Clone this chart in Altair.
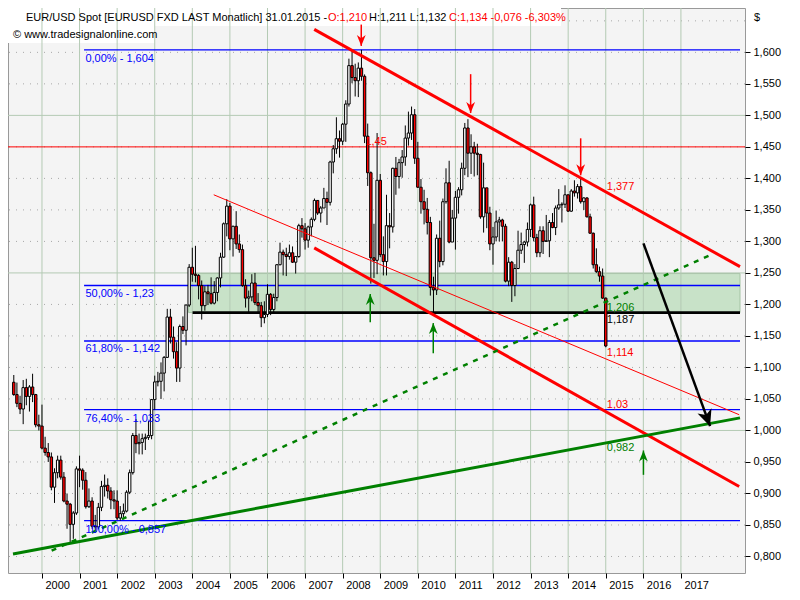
import altair as alt
import pandas as pd

FONT = "Liberation Sans"

# ---------------- monthly EUR/USD candles, Apr 1999 .. Jan 2015 ----------------
START_YEAR, START_MONTH = 1999, 4
FIRST_OPEN = 1.0765

C1999 = [1.0570, 1.0430, 1.0340, 1.0680, 1.0540, 1.0690, 1.0570, 1.0090, 1.0070]
H1999 = [1.0880, 1.0760, 1.0550, 1.0800, 1.0820, 1.0720, 1.0900, 1.0580, 1.0250]
L1999 = [1.0550, 1.0370, 1.0260, 1.0100, 1.0400, 1.0300, 1.0450, 1.0050, 1.0000]

C2000 = [0.9720, 0.9650, 0.9580, 0.9100, 0.9330, 0.9530, 0.9260, 0.8880, 0.8830, 0.8510, 0.8690, 0.9390]
H2000 = [1.0410, 0.9900, 0.9800, 0.9650, 0.9400, 0.9600, 0.9600, 0.9340, 0.9000, 0.8850, 0.8720, 0.9430]
L2000 = [0.9700, 0.9600, 0.9500, 0.9050, 0.8850, 0.9240, 0.9220, 0.8860, 0.8440, 0.8230, 0.8280, 0.8660]

C2001 = [0.9370, 0.9210, 0.8790, 0.8880, 0.8480, 0.8470, 0.8780, 0.9110, 0.9130, 0.9040, 0.8900, 0.8880]
H2001 = [0.9600, 0.9400, 0.9340, 0.9080, 0.8940, 0.8660, 0.8850, 0.9200, 0.9300, 0.9240, 0.9100, 0.9050]
L2001 = [0.9100, 0.9060, 0.8760, 0.8770, 0.8440, 0.8380, 0.8430, 0.8720, 0.8950, 0.8920, 0.8750, 0.8750]

C2002 = [0.8610, 0.8680, 0.8720, 0.9020, 0.9330, 0.9920, 0.9790, 0.9810, 0.9870, 0.9890, 0.9920, 1.0490]
H2002 = [0.9050, 0.8800, 0.8840, 0.9050, 0.9380, 0.9960, 1.0180, 0.9950, 0.9950, 0.9950, 1.0150, 1.0500]
L2002 = [0.8580, 0.8570, 0.8620, 0.8700, 0.8990, 0.9300, 0.9640, 0.9620, 0.9620, 0.9690, 0.9850, 0.9860]

C2003 = [1.0770, 1.0780, 1.0910, 1.1160, 1.1800, 1.1480, 1.1250, 1.0990, 1.1650, 1.1590, 1.1990, 1.2590]
H2003 = [1.0870, 1.0930, 1.1080, 1.1180, 1.1930, 1.1930, 1.1650, 1.1400, 1.1680, 1.1810, 1.2000, 1.2640]
L2003 = [1.0330, 1.0700, 1.0500, 1.0620, 1.1150, 1.1380, 1.1140, 1.0770, 1.0770, 1.1530, 1.1350, 1.1960]

C2004 = [1.2480, 1.2460, 1.2300, 1.1980, 1.2200, 1.2170, 1.2020, 1.2190, 1.2420, 1.2750, 1.3280, 1.3560]
H2004 = [1.2900, 1.2930, 1.2480, 1.2380, 1.2290, 1.2310, 1.2430, 1.2370, 1.2430, 1.2820, 1.3300, 1.3670]
L2004 = [1.2360, 1.2350, 1.2080, 1.1760, 1.1900, 1.1990, 1.2000, 1.2000, 1.2050, 1.2270, 1.2740, 1.3080]

C2005 = [1.3040, 1.3240, 1.2960, 1.2870, 1.2300, 1.2100, 1.2120, 1.2340, 1.2030, 1.1980, 1.1790, 1.1840]
H2005 = [1.3610, 1.3250, 1.3480, 1.3110, 1.2950, 1.2400, 1.2220, 1.2480, 1.2500, 1.2180, 1.2040, 1.2050]
L2005 = [1.2860, 1.2760, 1.2880, 1.2820, 1.2280, 1.1950, 1.1860, 1.2050, 1.1990, 1.1870, 1.1640, 1.1700]

C2006 = [1.2160, 1.1920, 1.2110, 1.2630, 1.2830, 1.2790, 1.2760, 1.2820, 1.2670, 1.2760, 1.3250, 1.3200]
H2006 = [1.2320, 1.2180, 1.2170, 1.2640, 1.2980, 1.2870, 1.2900, 1.2950, 1.2920, 1.2770, 1.3280, 1.3370]
L2006 = [1.1800, 1.1830, 1.1860, 1.2050, 1.2620, 1.2460, 1.2450, 1.2710, 1.2660, 1.2490, 1.2740, 1.3060]

C2007 = [1.3020, 1.3230, 1.3350, 1.3650, 1.3450, 1.3530, 1.3680, 1.3620, 1.4260, 1.4470, 1.4630, 1.4590]
H2007 = [1.3290, 1.3250, 1.3380, 1.3680, 1.3650, 1.3560, 1.3850, 1.3790, 1.4280, 1.4530, 1.4970, 1.4760]
L2007 = [1.2870, 1.2900, 1.3080, 1.3320, 1.3420, 1.3300, 1.3530, 1.3260, 1.3570, 1.4080, 1.4390, 1.4330]

C2008 = [1.4860, 1.5180, 1.5790, 1.5600, 1.5550, 1.5750, 1.5620, 1.4670, 1.4090, 1.2740, 1.2700, 1.3970]
H2008 = [1.4880, 1.5240, 1.5900, 1.6020, 1.5820, 1.5840, 1.6040, 1.5650, 1.4870, 1.4110, 1.3280, 1.4720]
L2008 = [1.4530, 1.4580, 1.5140, 1.5510, 1.5300, 1.5290, 1.5550, 1.4560, 1.3880, 1.2330, 1.2420, 1.2480]

C2009 = [1.2790, 1.2680, 1.3250, 1.3230, 1.4160, 1.4030, 1.4250, 1.4340, 1.4640, 1.4720, 1.5010, 1.4320]
H2009 = [1.4070, 1.3080, 1.3740, 1.3450, 1.4170, 1.4340, 1.4310, 1.4450, 1.4840, 1.5060, 1.5140, 1.5100]
L2009 = [1.2750, 1.2460, 1.2460, 1.2890, 1.3140, 1.3740, 1.3840, 1.4010, 1.4200, 1.4520, 1.4610, 1.4230]

C2010 = [1.3860, 1.3630, 1.3510, 1.3300, 1.2270, 1.2230, 1.3050, 1.2680, 1.3630, 1.3930, 1.2990, 1.3370]
H2010 = [1.4580, 1.3990, 1.3820, 1.3690, 1.3390, 1.2440, 1.3110, 1.3330, 1.3680, 1.4160, 1.4280, 1.3500]
L2010 = [1.3850, 1.3440, 1.3270, 1.3110, 1.2140, 1.1880, 1.2150, 1.2590, 1.2620, 1.3600, 1.2970, 1.3070]

C2011 = [1.3700, 1.3820, 1.4160, 1.4800, 1.4400, 1.4500, 1.4400, 1.4380, 1.3390, 1.3850, 1.3450, 1.2960]
H2011 = [1.3800, 1.3860, 1.4250, 1.4880, 1.4940, 1.4700, 1.4580, 1.4550, 1.4390, 1.4250, 1.3850, 1.3550]
L2011 = [1.2870, 1.3440, 1.3730, 1.4050, 1.4020, 1.4070, 1.4030, 1.4050, 1.3360, 1.3140, 1.3210, 1.2860]

C2012 = [1.3070, 1.3310, 1.3340, 1.3240, 1.2370, 1.2670, 1.2300, 1.2570, 1.2860, 1.2950, 1.2990, 1.3190]
H2012 = [1.3230, 1.3490, 1.3390, 1.3360, 1.3280, 1.2750, 1.2690, 1.2640, 1.3170, 1.3140, 1.3010, 1.3300]
L2012 = [1.2630, 1.3000, 1.3000, 1.3000, 1.2350, 1.2290, 1.2040, 1.2130, 1.2560, 1.2800, 1.2660, 1.2920]

C2013 = [1.3580, 1.3060, 1.2820, 1.3170, 1.3000, 1.3010, 1.3300, 1.3220, 1.3530, 1.3580, 1.3590, 1.3740]
H2013 = [1.3600, 1.3710, 1.3120, 1.3240, 1.3240, 1.3420, 1.3340, 1.3450, 1.3570, 1.3830, 1.3620, 1.3890]
L2013 = [1.3070, 1.3000, 1.2750, 1.2750, 1.2800, 1.3000, 1.2750, 1.3210, 1.3100, 1.3500, 1.3300, 1.3530]

C2014 = [1.3480, 1.3800, 1.3770, 1.3870, 1.3630, 1.3690, 1.3390, 1.3130, 1.2630, 1.2520, 1.2450, 1.2100]
H2014 = [1.3740, 1.3830, 1.3970, 1.3910, 1.3990, 1.3700, 1.3700, 1.3440, 1.3140, 1.2890, 1.2600, 1.2570]
L2014 = [1.3470, 1.3470, 1.3710, 1.3680, 1.3600, 1.3500, 1.3380, 1.3120, 1.2570, 1.2500, 1.2360, 1.2090]

C2015 = [1.1340]
H2015 = [1.2110]
L2015 = [1.1320]

CLOSE = (C1999 + C2000 + C2001 + C2002 + C2003 + C2004 + C2005 + C2006 + C2007
         + C2008 + C2009 + C2010 + C2011 + C2012 + C2013 + C2014 + C2015)
HIGH = (H1999 + H2000 + H2001 + H2002 + H2003 + H2004 + H2005 + H2006 + H2007
        + H2008 + H2009 + H2010 + H2011 + H2012 + H2013 + H2014 + H2015)
LOW = (L1999 + L2000 + L2001 + L2002 + L2003 + L2004 + L2005 + L2006 + L2007
       + L2008 + L2009 + L2010 + L2011 + L2012 + L2013 + L2014 + L2015)
OPEN = [FIRST_OPEN] + CLOSE[:-1]   # monthly open = previous month's close

# ---------------- axes ----------------
X_DOMAIN = [1999.229, 2018.572]
Y_DOMAIN = [0.7738, 1.6704]
YEAR_TICKS = [2000, 2001, 2002, 2003, 2004, 2005, 2006, 2007, 2008,
              2009, 2010, 2011, 2012, 2013, 2014, 2015, 2016, 2017]
PRICE_TICKS = [0.80, 0.85, 0.90, 0.95, 1.00, 1.05, 1.10, 1.15, 1.20,
               1.25, 1.30, 1.35, 1.40, 1.45, 1.50, 1.55, 1.60]
DOTTED_GRID = [0.80, 0.85, 0.90, 0.95, 1.05, 1.10, 1.15, 1.20, 1.30,
               1.35, 1.40, 1.45, 1.55, 1.60, 1.65]
SOLID_GRID = [1.00, 1.25, 1.50]

# ---------------- analysis objects ----------------
FIB_LEVELS = [1.604, 1.23, 1.142, 1.033, 0.857]
FIB_TEXT = ["0,00% - 1,604", "50,00% - 1,23", "61,80% - 1,142", "76,40% - 1,033", "100,00% - 0,857"]
FIB_TEXT_Y = [1.5894, 1.2167, 1.1287, 1.0184, 0.8417]
FIB_START = 2001.12
FIB_TEXT_X = 2001.156

RED_LEVEL = 1.45
SUPPORT_LEVEL = 1.187
SUPPORT_START = 2004.007
ZONE_START, ZONE_LOW, ZONE_HIGH = 2003.90, 1.187, 1.249

# trend lines: (x0, y0, x1, y1)
RED_THICK_X0 = [2007.244, 2007.244]
RED_THICK_Y0 = [1.6364, 1.2897]
RED_THICK_X1 = [2018.572, 2018.55]
RED_THICK_Y1 = [1.2599, 0.911]
RED_THIN = [2004.57, 1.374, 2018.55, 1.025]
GREEN_SOLID = [1999.229, 0.804, 2018.572, 1.020]
GREEN_DASHED = [2000.257, 0.8093, 2017.853, 1.2804]

RED_ARROW_X = [2008.495, 2011.405, 2014.333]
RED_ARROW_FROM = [1.6441, 1.5654, 1.4636]
RED_ARROW_TO = [1.6102, 1.5037, 1.4049]
GREEN_ARROW_X = [2008.734, 2010.411, 2016.003]
GREEN_ARROW_FROM = [1.1719, 1.1225, 0.9296]
GREEN_ARROW_TO = [1.2167, 1.1704, 0.9682]
BLACK_ARROW = [2016.003, 1.2969, 2017.776, 1.0068]

LABEL_TEXT = ["1,45", "1,377", "1,206", "1,187", "1,114", "1,03", "0,982"]
LABEL_X = [2008.605, 2015.027, 2015.027, 2015.027, 2015.027, 2015.027, 2015.027]
LABEL_Y = [1.4582, 1.3864, 1.1951, 1.1750, 1.1225, 1.0407, 0.9728]
LABEL_COLOR = ["#ff0000", "#ff0000", "#008000", "#000000", "#ff0000", "#ff0000", "#008000"]

# ---------------- helpers ----------------
xs = alt.Scale(domain=X_DOMAIN, nice=False, zero=False)
ys = alt.Scale(domain=Y_DOMAIN, nice=False, zero=False)
x_axis = alt.Axis(values=YEAR_TICKS, format="d", title=None, grid=False, domain=False,
                  tickSize=5, tickColor="#000000", labelAlign="left", labelOffset=3,
                  labelPadding=1, labelFlush=False, labelOverlap=False,
                  labelFont=FONT, labelFontSize=11, labelColor="#000000")
y_axis = alt.Axis(orient="right", values=PRICE_TICKS, title=None, grid=False, domain=False,
                  labelExpr="replace(format(datum.value, '.3f'), '.', ',')",
                  tickSize=5, tickColor="#000000", labelPadding=3, labelFlush=False,
                  labelOverlap=False, labelFont=FONT, labelFontSize=11, labelColor="#000000")


def X(f):
    return alt.X(f"{f}:Q", scale=xs, axis=x_axis)


def Y(f):
    return alt.Y(f"{f}:Q", scale=ys, axis=y_axis)


n = len(CLOSE)
candles = pd.DataFrame({
    "t": [START_YEAR + (START_MONTH - 1 + i) / 12 for i in range(n)],
    "o": OPEN, "h": HIGH, "l": LOW, "c": CLOSE,
})

one = pd.DataFrame({"a": [0]})

layers = []

# dotted horizontal grid
layers.append(alt.Chart(pd.DataFrame({"v": DOTTED_GRID})).mark_rule(
    color="#a8a8a8", strokeDash=[1, 6], strokeWidth=1).encode(y=Y("v")))

# white header backgrounds
layers.append(alt.Chart(one).mark_rect(color="white").encode(
    x=alt.value(0), x2=alt.value(553), y=alt.value(0), y2=alt.value(18)))
layers.append(alt.Chart(one).mark_rect(color="white").encode(
    x=alt.value(0), x2=alt.value(147), y=alt.value(18), y2=alt.value(35)))

# green support zone
layers.append(alt.Chart(pd.DataFrame({"x0": [ZONE_START], "x1": [X_DOMAIN[1]],
                                      "y0": [ZONE_LOW], "y1": [ZONE_HIGH]}))
              .mark_rect(fill="#c8e2c8", stroke="#a4c4a4", strokeWidth=1)
              .encode(x=X("x0"), x2="x1", y=Y("y0"), y2="y1"))

# solid grid lines
layers.append(alt.Chart(pd.DataFrame({"yr": YEAR_TICKS})).mark_rule(
    color="#b4cab4", strokeWidth=1).encode(x=X("yr")))
layers.append(alt.Chart(pd.DataFrame({"v": SOLID_GRID})).mark_rule(
    color="#b4cab4", strokeWidth=1).encode(y=Y("v")))

# fibonacci lines
layers.append(alt.Chart(pd.DataFrame({"v": FIB_LEVELS, "x0": [FIB_START] * len(FIB_LEVELS),
                                      "x1": [X_DOMAIN[1]] * len(FIB_LEVELS)}))
              .mark_rule(color="#0000ff", strokeWidth=1.3)
              .encode(x=X("x0"), x2="x1", y=Y("v")))
# 1.45 red level
layers.append(alt.Chart(pd.DataFrame({"v": [RED_LEVEL]})).mark_rule(
    color="#ff0000", strokeWidth=1).encode(y=Y("v")))
# 1.187 black level
layers.append(alt.Chart(pd.DataFrame({"v": [SUPPORT_LEVEL], "x0": [SUPPORT_START],
                                      "x1": [X_DOMAIN[1]]}))
              .mark_rule(color="#000000", strokeWidth=2.6)
              .encode(x=X("x0"), x2="x1", y=Y("v")))

# candles
layers.append(alt.Chart(candles).mark_rule(color="#000000", strokeWidth=1, clip=True)
              .encode(x=X("t"), y=Y("l"), y2="h"))
layers.append(alt.Chart(candles).mark_bar(size=2.4, stroke="#000000", strokeWidth=1, clip=True)
              .encode(x=X("t"), y=Y("o"), y2="c",
                      fill=alt.condition("datum.c < datum.o", alt.value("#ff0000"),
                                         alt.value("#ffffff"))))

# trend lines
layers.append(alt.Chart(pd.DataFrame({"x0": RED_THICK_X0, "y0": RED_THICK_Y0,
                                      "x1": RED_THICK_X1, "y1": RED_THICK_Y1}))
              .mark_rule(color="#ff0000", strokeWidth=3, clip=True)
              .encode(x=X("x0"), y=Y("y0"), x2="x1", y2="y1"))
layers.append(alt.Chart(pd.DataFrame({"x0": [RED_THIN[0]], "y0": [RED_THIN[1]],
                                      "x1": [RED_THIN[2]], "y1": [RED_THIN[3]]}))
              .mark_rule(color="#ff0000", strokeWidth=1, clip=True)
              .encode(x=X("x0"), y=Y("y0"), x2="x1", y2="y1"))
layers.append(alt.Chart(pd.DataFrame({"x0": [GREEN_SOLID[0]], "y0": [GREEN_SOLID[1]],
                                      "x1": [GREEN_SOLID[2]], "y1": [GREEN_SOLID[3]]}))
              .mark_rule(color="#008000", strokeWidth=3, clip=True)
              .encode(x=X("x0"), y=Y("y0"), x2="x1", y2="y1"))
layers.append(alt.Chart(pd.DataFrame({"x0": [GREEN_DASHED[0]], "y0": [GREEN_DASHED[1]],
                                      "x1": [GREEN_DASHED[2]], "y1": [GREEN_DASHED[3]]}))
              .mark_rule(color="#008000", strokeWidth=2.5, strokeDash=[5, 6], clip=True)
              .encode(x=X("x0"), y=Y("y0"), x2="x1", y2="y1"))

# arrows
DOWN_HEAD = "M0,0L-0.8,-2L0,-1.4L0.8,-2Z"
UP_HEAD = "M0,0L-0.8,2L0,1.4L0.8,2Z"
red_arrows = pd.DataFrame({"x": RED_ARROW_X, "y0": RED_ARROW_FROM, "y1": RED_ARROW_TO})
green_arrows = pd.DataFrame({"x": GREEN_ARROW_X, "y0": GREEN_ARROW_FROM, "y1": GREEN_ARROW_TO})
layers.append(alt.Chart(red_arrows).mark_rule(color="#ff0000", strokeWidth=1.5)
              .encode(x=X("x"), y=Y("y0"), y2="y1"))
layers.append(alt.Chart(red_arrows).mark_point(shape=DOWN_HEAD, filled=True, size=121,
                                               color="#ff0000", opacity=1)
              .encode(x=X("x"), y=Y("y1")))
layers.append(alt.Chart(green_arrows).mark_rule(color="#008000", strokeWidth=1.5)
              .encode(x=X("x"), y=Y("y0"), y2="y1"))
layers.append(alt.Chart(green_arrows).mark_point(shape=UP_HEAD, filled=True, size=121,
                                                 color="#008000", opacity=1)
              .encode(x=X("x"), y=Y("y1")))
black_arrow = pd.DataFrame({"x0": [BLACK_ARROW[0]], "y0": [BLACK_ARROW[1]],
                            "x1": [BLACK_ARROW[2]], "y1": [BLACK_ARROW[3]]})
layers.append(alt.Chart(black_arrow).mark_rule(color="#000000", strokeWidth=2.5)
              .encode(x=X("x0"), y=Y("y0"), x2="x1", y2="y1"))
layers.append(alt.Chart(black_arrow).mark_point(shape="M0,0L-1,-2.2L0,-1.6L1,-2.2Z",
                                                filled=True, size=220, angle=340,
                                                color="#000000", opacity=1)
              .encode(x=X("x1"), y=Y("y1")))

# labels
layers.append(alt.Chart(pd.DataFrame({"x": [FIB_TEXT_X] * len(FIB_TEXT), "y": FIB_TEXT_Y,
                                      "s": FIB_TEXT}))
              .mark_text(align="left", baseline="middle", font=FONT, fontSize=11, color="#0000ff")
              .encode(x=X("x"), y=Y("y"), text="s:N"))
layers.append(alt.Chart(pd.DataFrame({"x": LABEL_X, "y": LABEL_Y, "s": LABEL_TEXT,
                                      "col": LABEL_COLOR}))
              .mark_text(align="left", baseline="middle", font=FONT, fontSize=11)
              .encode(x=X("x"), y=Y("y"), text="s:N", color=alt.Color("col:N", scale=None)))

# header text
HEADER = ["EUR/USD Spot [EURUSD FXD LAST Monatlich] 31.01.2015 - ", "O:1,210",
          "H:1,211 L:1,132", "C:1,134 -0,076 -6,303%"]
HEADER_X = [18, 320, 361, 441]
HEADER_COL = ["#000000", "#ff0000", "#000000", "#ff0000"]
for s, hx, hc in zip(HEADER, HEADER_X, HEADER_COL):
    layers.append(alt.Chart(one).mark_text(align="left", baseline="middle", font=FONT,
                                           fontSize=11, color=hc, text=s)
                  .encode(x=alt.value(hx), y=alt.value(10)))
layers.append(alt.Chart(one).mark_text(align="left", baseline="middle", font=FONT, fontSize=11,
                                       color="#000000", text="© www.tradesignalonline.com")
              .encode(x=alt.value(5), y=alt.value(27)))
layers.append(alt.Chart(one).mark_text(align="left", baseline="middle", font=FONT, fontSize=11,
                                       color="#000000", text="$")
              .encode(x=alt.value(746), y=alt.value(10)))

chart = alt.layer(*layers).properties(
    width=737, height=565,
    padding={"left": 0, "top": 0, "right": 47, "bottom": 19},
    autosize=alt.AutoSizeParams(type="none"),
    background="white",
).configure_view(fill="#f4f4f4", stroke="#999999", strokeWidth=1)

chart.save("out.html", embed_options={"renderer": "svg", "actions": False})
